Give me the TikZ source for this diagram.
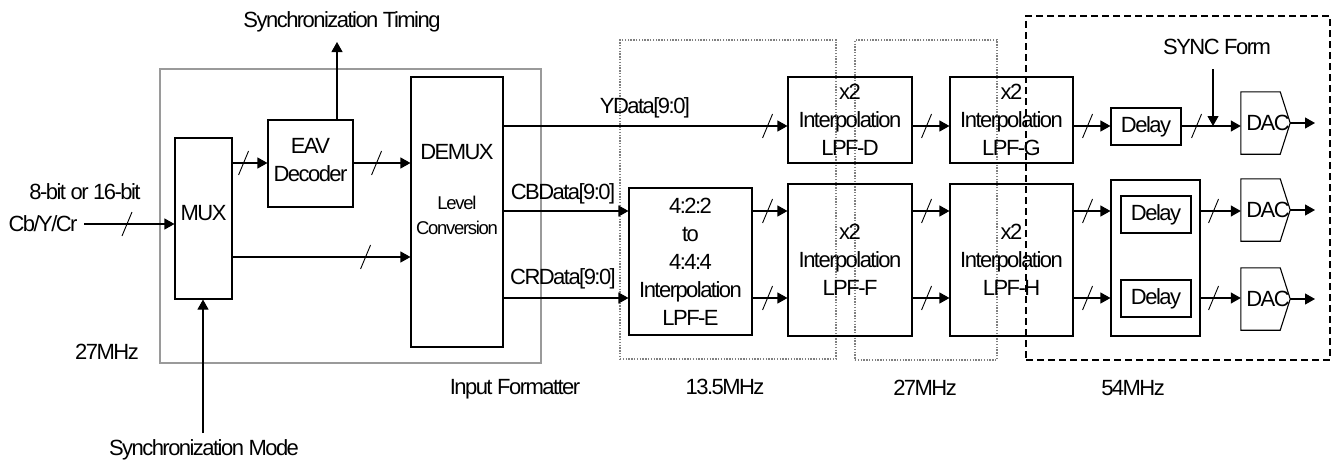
\documentclass[tikz,border=0pt]{standalone}
\usepackage{fontspec}
\setmainfont{Liberation Sans}[LetterSpace=-7]
\usetikzlibrary{arrows.meta,decorations.markings}
\newcommand\mainf{\fontsize{22}{28}\selectfont}
\newcommand\smallf{\fontsize{18.5}{25}\selectfont}
\definecolor{frame}{HTML}{9A9A9A}
\definecolor{dotc}{HTML}{808080}
\begin{document}
\begin{tikzpicture}[x=1pt,y=-1pt,
  bx/.style 2 args={draw, line width=1.1pt, minimum width=#1pt, minimum height=#2pt, inner sep=0pt, align=center, font=\mainf},
  txt/.style={font=\mainf, inner sep=0pt, text height=15.75pt, text depth=0pt},
  txts/.style={font=\smallf, inner sep=0pt, align=center},
  grayb/.style={draw=frame, line width=1.2pt, inner sep=0pt},
  dotb/.style={draw=dotc, line width=1.1pt, dash pattern=on 1.4pt off 1.4pt, inner sep=0pt},
  dashb/.style={draw, line width=1.6pt, dash pattern=on 7pt off 4pt, inner sep=0pt},
  dacs/.style={minimum width=49pt, minimum height=62pt, inner sep=0pt, font=\mainf},
  arr/.style={line width=1.1pt, -{Triangle[length=10pt,width=11pt]}},
  sl/.style={postaction={decorate,decoration={markings,mark=at position #1 with {\draw[-, line width=0.9pt] (-5pt,-12pt) -- (5pt,12pt);}}}}
]
\useasboundingbox (0,0) rectangle (1335,463);

% region frames
\node[grayb, minimum width=381pt, minimum height=294pt] (inf) at (350.5,216) {};
\node[dotb, minimum width=216pt, minimum height=319pt] (z1) at (728,199.5) {};
\node[dotb, minimum width=142pt, minimum height=320pt] (z2) at (926,200) {};
\node[dashb, minimum width=304pt, minimum height=344pt] (z3) at (1178,188) {};

% rows
\coordinate (r1) at (0,126);
\coordinate (r2) at (0,211);
\coordinate (r3) at (0,298);
\coordinate (m1) at (0,163);
\coordinate (m2) at (0,257);

% blocks
\node[bx={57}{161}, text height=16pt, text depth=12pt] (mux) at (203.5,218.5) {MUX};
\node[bx={85}{87}] (eav) at (310.5,163.5) {EAV\\Decoder\rule[-7pt]{0pt}{7pt}};
\node[bx={92}{270}] (demux) at (457,212) {};
\node[txt] (demuxt) at (457,152) {DEMUX};
\node[txts] (lvl) at (457,215.5) {Level\\Conversion};
\node[bx={123}{147}] (lpfe) at (690.5,261.5) {4:2:2\\to\\4:4:4\\Interpolation\\LPF-E};
\node[bx={124}{86}] (lpfd) at (850,120) {x2\\Interpolation\\LPF-D};
\node[bx={124}{152}] (lpff) at (850,260) {x2\\Interpolation\\LPF-F};
\node[bx={123}{86}] (lpfg) at (1011.5,120) {x2\\Interpolation\\LPF-G};
\node[bx={123}{152}] (lpfh) at (1011.5,260) {x2\\Interpolation\\LPF-H};
\node[bx={70}{37}] (dly1) at (1146,126.5) {Delay};
\node[bx={89}{156}] (dgrp) at (1155.5,258) {};
\node[bx={70}{37}] (dly2) at (1156,214.5) {Delay};
\node[bx={70}{37}] (dly3) at (1156,298.5) {Delay};
\node[dacs] (dac1) at (1265.5,123) {\hspace*{5pt}DAC};
\node[dacs] (dac2) at (1265.5,210) {\hspace*{5pt}DAC};
\node[dacs] (dac3) at (1265.5,299) {\hspace*{5pt}DAC};
\foreach \d in {dac1,dac2,dac3}
  \draw[line width=1.1pt] (\d.north west) -- ([xshift=-10pt]\d.north east) -- (\d.east) -- ([xshift=-10pt]\d.south east) -- (\d.south west) -- cycle;

% labels
\node[txt] (st) at (342,20) {Synchronization Timing};
\node[txt] (sm) at (204,448) {Synchronization Mode};
\node[txt] (bits) at (85,192) {8-bit or 16-bit};
\node[txt] (cyc) at (43,224) {Cb/Y/Cr};
\node[txt] (f27a) at (107,352) {27MHz};
\node[txt] (ifl) at (515,387) {Input Formatter};
\node[txt] (f135) at (725,387) {13.5MHz};
\node[txt] (f27b) at (925,388) {27MHz};
\node[txt] (f54) at (1133,388) {54MHz};
\node[txt] (sf) at (1217,47) {SYNC Form};
\node[txt] (yd) at (645,106) {YData[9:0]};
\node[txt] (cbd) at (563,192) {CBData[9:0]};
\node[txt] (crd) at (563,277) {CRData[9:0]};

% connectors
\coordinate (inp) at (84,224);
\draw[arr, sl=43pt] (inp) -- (mux.west |- inp);
\draw[arr, sl=11pt] (mux.east |- m1) -- (eav.west |- m1);
\draw[arr, sl=23pt] (eav.east |- m1) -- (demux.west |- m1);
\draw[arr, sl=133pt] (mux.east |- m2) -- (demux.west |- m2);
\coordinate (stend) at (337,42);
\draw[arr] (eav.north -| stend) -- (stend);
\coordinate (smst) at (203,433);
\draw[arr] (smst) -- (mux.south -| smst);

\draw[arr, sl=264pt] (demux.east |- r1) -- (lpfd.west |- r1);
\draw[arr] (demux.east |- r2) -- (lpfe.west |- r2);
\draw[arr] (demux.east |- r3) -- (lpfe.west |- r3);
\draw[arr, sl=15pt] (lpfe.east |- r2) -- (lpff.west |- r2);
\draw[arr, sl=15pt] (lpfe.east |- r3) -- (lpff.west |- r3);
\draw[arr, sl=14pt] (lpfd.east |- r1) -- (lpfg.west |- r1);
\draw[arr, sl=14pt] (lpff.east |- r2) -- (lpfh.west |- r2);
\draw[arr, sl=14pt] (lpff.east |- r3) -- (lpfh.west |- r3);
\draw[arr, sl=14pt] (lpfg.east |- r1) -- (dly1.west |- r1);
\draw[arr, sl=14pt] (lpfh.east |- r2) -- (dgrp.west |- r2);
\draw[arr, sl=14pt] (lpfh.east |- r3) -- (dgrp.west |- r3);
\draw[arr, sl=15pt] (dly1.east |- r1) -- (dac1.west |- r1);
\draw[arr, sl=13pt] (dgrp.east |- r2) -- (dac2.west |- r2);
\draw[arr, sl=13pt] (dgrp.east |- r3) -- (dac3.west |- r3);
\coordinate (sfs) at (1213,69);
\draw[arr] (sfs) -- (sfs |- r1);
\coordinate (ox) at (1315,0);
\draw[arr] (dac1.east) -- (dac1.east -| ox);
\draw[arr] (dac2.east) -- (dac2.east -| ox);
\draw[arr] (dac3.east) -- (dac3.east -| ox);
\end{tikzpicture}
\end{document}
